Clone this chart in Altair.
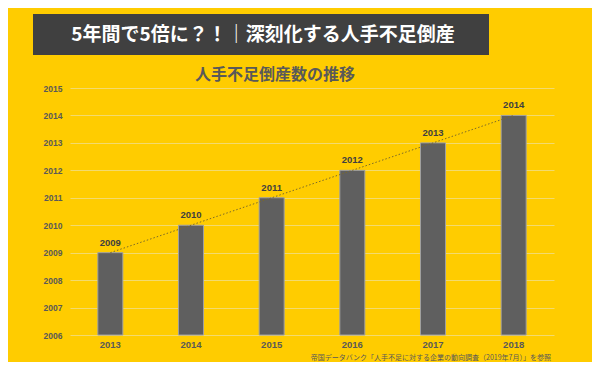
import altair as alt
import pandas as pd

years = ["2013", "2014", "2015", "2016", "2017", "2018"]
counts = [2009, 2010, 2011, 2012, 2013, 2014]
y_ticks = [2006, 2007, 2008, 2009, 2010, 2011, 2012, 2013, 2014, 2015]

title_text = "5年間で5倍に？！｜深刻化する人手不足倒産"
subtitle_text = "人手不足倒産数の推移"
source_text = "帝国データバンク「人手不足に対する企業の動向調査（2019年7月）」を参照"

df = pd.DataFrame({"year": years, "count": counts, "base": [2006] * len(years)})

JP = "Noto Sans CJK JP"
NUM = "Liberation Sans"
YEL = "#FFCC00"
GRAY = "#595959"

x_enc = alt.X(
    "year:N",
    sort=years,
    scale=alt.Scale(paddingInner=0.69, paddingOuter=0.345),
    axis=alt.Axis(
        title=None, labelAngle=0, ticks=False, domain=False,
        labelFont=NUM, labelFontSize=9.5, labelFontWeight="bold",
        labelColor=GRAY, labelPadding=4,
    ),
)
y_enc = alt.Y(
    "count:Q",
    scale=alt.Scale(domain=[2006, 2015], zero=False, nice=False),
    axis=alt.Axis(
        title=None, values=y_ticks, tickCount=10, format="d", ticks=False, domain=False,
        labelFont=NUM, labelFontSize=8.5, labelFontWeight="bold",
        labelColor=GRAY, labelPadding=8, labelOverlap=False, labelBound=False,
        grid=True, gridColor="#F3DA6E", gridWidth=1.2,
    ),
)

base = alt.Chart(df)

bars = base.mark_bar(color="#5F5F5F", stroke="#A0A0A0", strokeWidth=1).encode(
    x=x_enc, y=y_enc, y2="base:Q"
)

trend = base.mark_line(color="#7A6A2A", strokeDash=[1.5, 2], strokeWidth=1).encode(
    x=x_enc, y=y_enc
)

labels = base.mark_text(
    font=NUM, fontSize=9.5, fontWeight="bold", color="#404040", baseline="bottom", dy=-5
).encode(x=x_enc, y=y_enc, text=alt.Text("count:Q", format="d"))

banner = alt.Chart(pd.DataFrame({"a": [0]})).mark_rect(color="#404040").encode(
    x=alt.value(-37), x2=alt.value(419), y=alt.value(-74), y2=alt.value(-33)
)
banner_text = alt.Chart(pd.DataFrame({"t": [title_text]})).mark_text(
    font=JP, fontSize=19, fontWeight="bold", color="white", align="center", baseline="middle"
).encode(x=alt.value(193), y=alt.value(-53), text="t:N")

sub_text = alt.Chart(pd.DataFrame({"t": [subtitle_text]})).mark_text(
    font=JP, fontSize=16, fontWeight="bold", color=GRAY, align="center", baseline="middle"
).encode(x=alt.value(205), y=alt.value(-13), text="t:N")

src_text = alt.Chart(pd.DataFrame({"t": [source_text]})).mark_text(
    font=JP, fontSize=7, color=GRAY, align="right", baseline="bottom"
).encode(x=alt.value(481), y=alt.value(273), text="t:N")

chart = alt.layer(bars, trend, labels, banner, banner_text, sub_text, src_text).properties(
    width=484,
    height=247,
    background=YEL,
    padding={"left": 62, "top": 80, "right": 38, "bottom": 27},
    autosize=alt.AutoSizeParams(type="none"),
).configure_view(stroke=None)

chart.save("out.html", embed_options={"renderer": "svg", "actions": False})
